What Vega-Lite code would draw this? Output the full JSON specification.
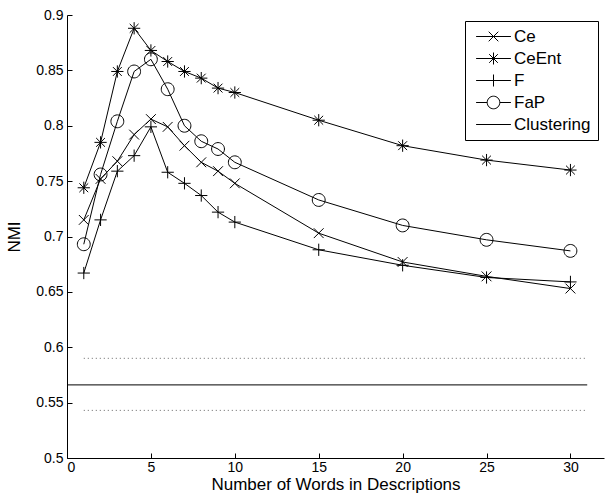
{
  "$schema": "https://vega.github.io/schema/vega-lite/v6.json",
  "width": 537,
  "height": 443,
  "autosize": {"type": "none"},
  "padding": {"left": 67, "top": 15, "right": 2, "bottom": 35},
  "background": "white",
  "config": {
    "view": {"stroke": null},
    "font": "Liberation Sans",
    "axis": {
      "domainColor": "black",
      "tickColor": "black",
      "labelColor": "black",
      "titleColor": "black",
      "grid": false,
      "labelFont": "Liberation Sans",
      "titleFont": "Liberation Sans",
      "labelFontSize": 14,
      "titleFontSize": 17,
      "titleFontWeight": "normal",
      "tickSize": -5,
      "domainWidth": 1,
      "tickWidth": 1
    }
  },
  "datasets": {
    "series": [
      {"s": "Ce", "x": 1, "y": 0.715}, {"s": "Ce", "x": 2, "y": 0.752}, {"s": "Ce", "x": 3, "y": 0.768},
      {"s": "Ce", "x": 4, "y": 0.792}, {"s": "Ce", "x": 5, "y": 0.806}, {"s": "Ce", "x": 6, "y": 0.799},
      {"s": "Ce", "x": 7, "y": 0.782}, {"s": "Ce", "x": 8, "y": 0.767}, {"s": "Ce", "x": 9, "y": 0.759},
      {"s": "Ce", "x": 10, "y": 0.748}, {"s": "Ce", "x": 15, "y": 0.703}, {"s": "Ce", "x": 20, "y": 0.677},
      {"s": "Ce", "x": 25, "y": 0.664}, {"s": "Ce", "x": 30, "y": 0.653},
      {"s": "CeEnt", "x": 1, "y": 0.744}, {"s": "CeEnt", "x": 2, "y": 0.785}, {"s": "CeEnt", "x": 3, "y": 0.849},
      {"s": "CeEnt", "x": 4, "y": 0.888}, {"s": "CeEnt", "x": 5, "y": 0.868}, {"s": "CeEnt", "x": 6, "y": 0.858},
      {"s": "CeEnt", "x": 7, "y": 0.849}, {"s": "CeEnt", "x": 8, "y": 0.843}, {"s": "CeEnt", "x": 9, "y": 0.834},
      {"s": "CeEnt", "x": 10, "y": 0.830}, {"s": "CeEnt", "x": 15, "y": 0.805}, {"s": "CeEnt", "x": 20, "y": 0.782},
      {"s": "CeEnt", "x": 25, "y": 0.769}, {"s": "CeEnt", "x": 30, "y": 0.760},
      {"s": "F", "x": 1, "y": 0.667}, {"s": "F", "x": 2, "y": 0.715}, {"s": "F", "x": 3, "y": 0.759},
      {"s": "F", "x": 4, "y": 0.773}, {"s": "F", "x": 5, "y": 0.799}, {"s": "F", "x": 6, "y": 0.758},
      {"s": "F", "x": 7, "y": 0.748}, {"s": "F", "x": 8, "y": 0.737}, {"s": "F", "x": 9, "y": 0.722},
      {"s": "F", "x": 10, "y": 0.713}, {"s": "F", "x": 15, "y": 0.688}, {"s": "F", "x": 20, "y": 0.674},
      {"s": "F", "x": 25, "y": 0.663}, {"s": "F", "x": 30, "y": 0.659},
      {"s": "FaP", "x": 1, "y": 0.693}, {"s": "FaP", "x": 2, "y": 0.756}, {"s": "FaP", "x": 3, "y": 0.804},
      {"s": "FaP", "x": 4, "y": 0.849}, {"s": "FaP", "x": 5, "y": 0.860}, {"s": "FaP", "x": 6, "y": 0.833},
      {"s": "FaP", "x": 7, "y": 0.800}, {"s": "FaP", "x": 8, "y": 0.786}, {"s": "FaP", "x": 9, "y": 0.779},
      {"s": "FaP", "x": 10, "y": 0.767}, {"s": "FaP", "x": 15, "y": 0.733}, {"s": "FaP", "x": 20, "y": 0.710},
      {"s": "FaP", "x": 25, "y": 0.697}, {"s": "FaP", "x": 30, "y": 0.687}
    ],
    "clust": [
      {"kind": "mean", "x": 0, "x2": 31, "y": 0.566},
      {"kind": "bound", "x": 1, "x2": 31, "y": 0.590},
      {"kind": "bound", "x": 1, "x2": 31, "y": 0.543}
    ]
  },
  "encoding": {
    "x": {
      "field": "x", "type": "quantitative",
      "scale": {"domain": [0, 32], "nice": false, "zero": false},
      "axis": {"values": [0, 5, 10, 15, 20, 25, 30], "title": "Number of Words in Descriptions", "labelPadding": 7, "titlePadding": 2}
    },
    "y": {
      "field": "y", "type": "quantitative",
      "scale": {"domain": [0.5, 0.9], "nice": false, "zero": false},
      "axis": {"values": [0.5, 0.55, 0.6, 0.65, 0.7, 0.75, 0.8, 0.85, 0.9], "format": "~g", "title": "NMI", "labelPadding": 9, "titlePadding": 12}
    }
  },
  "layer": [
    {
      "data": {"name": "clust"},
      "transform": [{"filter": "datum.kind == 'bound'"}],
      "mark": {"type": "rule", "color": "#666666", "strokeWidth": 1, "strokeDash": [1, 3]},
      "encoding": {"x2": {"field": "x2"}}
    },
    {
      "data": {"name": "clust"},
      "transform": [{"filter": "datum.kind == 'mean'"}],
      "mark": {"type": "rule", "color": "black", "strokeWidth": 1},
      "encoding": {"x2": {"field": "x2"}}
    },
    {
      "data": {"name": "series"},
      "mark": {"type": "line", "color": "black", "strokeWidth": 1},
      "encoding": {"detail": {"field": "s"}}
    },
    {
      "data": {"name": "series"},
      "mark": {"type": "point", "filled": false, "color": "black", "strokeWidth": 1, "size": 150, "opacity": 1},
      "encoding": {
        "shape": {
          "field": "s", "type": "nominal",
          "scale": {
            "domain": ["Ce", "CeEnt", "F", "FaP"],
            "range": [
              "M-0.8,-0.8L0.8,0.8M-0.8,0.8L0.8,-0.8",
              "M0,-1L0,1M-1,0L1,0M-0.72,-0.72L0.72,0.72M-0.72,0.72L0.72,-0.72",
              "M0,-1L0,1M-1,0L1,0",
              "M-1.05,0A1.05,1.05 0 1,1 1.05,0A1.05,1.05 0 1,1 -1.05,0Z"
            ]
          },
          "legend": null
        }
      }
    },
    {
      "data": {"name": "series"},
      "transform": [{"filter": "false"}],
      "mark": {"type": "point", "filled": false, "color": "black", "strokeWidth": 1, "size": 144},
      "encoding": {
        "shape": {
          "field": "s", "type": "nominal",
          "scale": {
            "domain": ["Ce", "CeEnt", "F", "FaP", "Clustering"],
            "range": [
              "M-2.9,0L2.9,0M-0.8,-0.8L0.8,0.8M-0.8,0.8L0.8,-0.8",
              "M-2.9,0L2.9,0M0,-1L0,1M-0.72,-0.72L0.72,0.72M-0.72,0.72L0.72,-0.72",
              "M-2.9,0L2.9,0M0,-1L0,1",
              "M-2.9,0L-1.05,0M1.05,0L2.9,0M-1.05,0A1.05,1.05 0 1,1 1.05,0A1.05,1.05 0 1,1 -1.05,0Z",
              "M-2.9,0L2.9,0"
            ]
          },
          "legend": {
            "title": null,
            "orient": "top-right",
            "offset": 6,
            "padding": 7,
            "strokeColor": "black",
            "fillColor": "white",
            "cornerRadius": 0,
            "symbolSize": 144,
            "symbolStrokeWidth": 1,
            "symbolStrokeColor": "black",
            "symbolFillColor": "transparent",
            "symbolOpacity": 1,
            "symbolOffset": 13,
            "labelOffset": 12,
            "labelFont": "Liberation Sans",
            "labelFontSize": 17,
            "labelColor": "black",
            "rowPadding": 4
          }
        }
      }
    }
  ],
  "resolve": {"scale": {"shape": "independent"}, "legend": {"shape": "independent"}}
}
